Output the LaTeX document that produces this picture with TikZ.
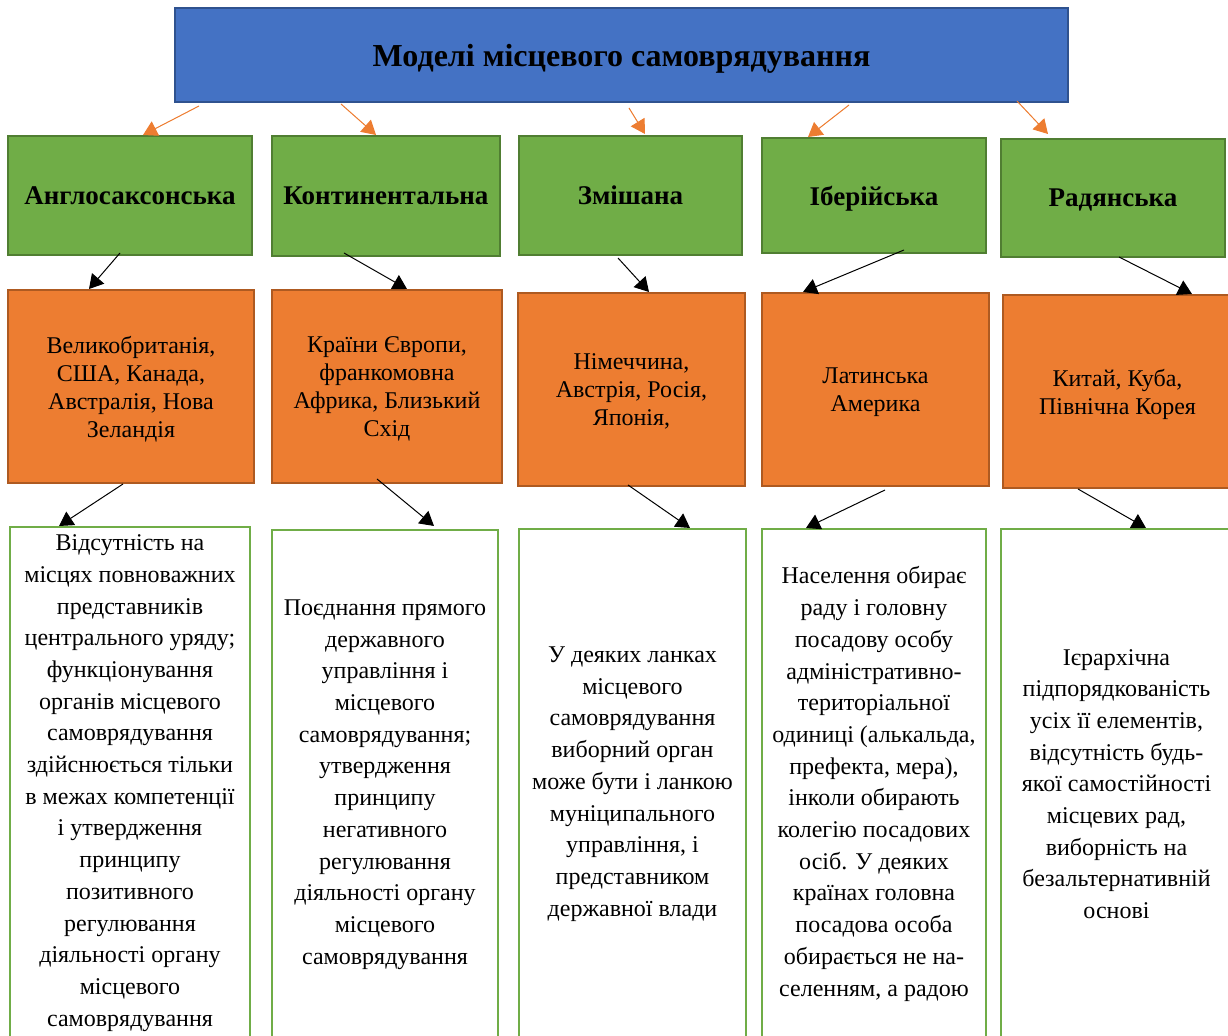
\documentclass[tikz,border=0pt]{standalone}
\usepackage{fontspec}
\setmainfont{Liberation Serif}
\usetikzlibrary{positioning}
\usetikzlibrary{arrows.meta}

\definecolor{headblue}{HTML}{4472C4}
\definecolor{headblueline}{HTML}{2F528F}
\definecolor{modelgreen}{HTML}{70AD47}
\definecolor{modelgreenline}{HTML}{507E32}
\definecolor{countryorange}{HTML}{ED7D31}
\definecolor{countryorangeline}{HTML}{AE5A21}

\tikzset{
    headbox/.style={draw=headblueline, fill=headblue, line width=1pt, inner sep=0pt, text depth=0pt,
        font=\fontsize{16}{19}\selectfont\bfseries},
    modelbox/.style={draw=modelgreenline, fill=modelgreen, line width=1pt, inner sep=0pt, text depth=0pt,
        font=\fontsize{13.5}{16}\selectfont\bfseries},
    countrybox/.style={draw=countryorangeline, fill=countryorange, line width=1pt, inner sep=0pt, text depth=0pt,
        align=center, font=\fontsize{12}{14}\selectfont},
    featurebox/.style={draw=modelgreen, fill=white, line width=1pt, inner sep=0pt,
        align=center, font=\fontsize{12}{15.85}\selectfont},
    toparrow/.style={-{Triangle[length=7pt,width=8pt]}, draw=countryorange, fill=countryorange, line width=0.5pt},
    downarrow/.style={-{Triangle[length=7pt,width=8pt]}, line width=0.5pt}
}

\begin{document}
\begin{tikzpicture}[x=0.5pt, y=-0.5pt]
            \useasboundingbox (0,0) rectangle (1228,1036);

            % head
            \node(model) [headbox, minimum width=446.5pt, minimum height=47pt] at (621.5,55) {Моделі місцевого самоврядування};

            % models
            \node(anglo) [modelbox, minimum width=122pt, minimum height=59.5pt] at (130,195.5) {Англосаксонська};
            \node(conti) [modelbox, minimum width=114pt, minimum height=60pt] at (386,196) {Континентальна};
            \node(mixed) [modelbox, minimum width=111.5pt, minimum height=59.5pt] at (630.5,195.5) {Змішана};
            \node(iber) [modelbox, minimum width=112pt, minimum height=57.5pt] at (874,195.5) {Іберійська};
            \node(sov) [modelbox, minimum width=112pt, minimum height=59pt] at (1113,198) {Радянська};

            % countries
            \node(angloc) [countrybox, minimum width=123pt, minimum height=96.5pt] at (131,386.5)
                {Великобританія,\\США, Канада,\\Австралія, Нова\\Зеландія};
            \node(contic) [countrybox, minimum width=115pt, minimum height=96.5pt] at (387,386.5)
                {Країни Європи,\\франкомовна\\Африка, Близький\\Схід};
            \node(mixedc) [countrybox, minimum width=113.5pt, minimum height=96.5pt] at (631.5,389.5)
                {Німеччина,\\Австрія, Росія,\\Японія,};
            \node(iberc) [countrybox, minimum width=113.5pt, minimum height=96.5pt] at (875.5,389.5)
                {Латинська\\Америка};
            \node(sovc) [countrybox, minimum width=114.5pt, minimum height=96.5pt] at (1117.5,391.5)
                {Китай, Куба,\\Північна Корея};

            % features
            \node(anglof) [featurebox, minimum width=120pt, minimum height=256pt] at (130,783)
                {Відсутність на\\місцях повноважних\\представників\\центрального уряду;\\функціонування\\органів місцевого\\самоврядування\\здійснюється тільки\\в межах компетенції\\і утвердження\\принципу\\позитивного\\регулювання\\діяльності органу\\місцевого\\самоврядування};
            \node(contif) [featurebox, minimum width=113pt, minimum height=254.5pt] at (385,784.5)
                {Поєднання прямого\\державного\\управління і\\місцевого\\самоврядування;\\утвердження\\принципу\\негативного\\регулювання\\діяльності органу\\місцевого\\самоврядування};
            \node(mixedf) [featurebox, minimum width=113.5pt, minimum height=255pt] at (632.5,784)
                {У деяких ланках\\місцевого\\самоврядування\\виборний орган\\може бути і ланкою\\муніципального\\управління, і\\представником\\державної влади};
            \node(iberf) [featurebox, minimum width=112pt, minimum height=255pt] at (874,784)
                {Населення обирає\\раду і головну\\посадову особу\\адміністративно-\\територіальної\\одиниці (алькальда,\\префекта, мера),\\інколи обирають\\колегію посадових\\осіб. У деяких\\країнах головна\\посадова особа\\обирається не на-\\селенням, а радою};
            \node(sovf) [featurebox, minimum width=115.5pt, minimum height=255pt] at (1116.5,784)
                {Ієрархічна\\підпорядкованість\\усіх її елементів,\\відсутність будь-\\якої самостійності\\місцевих рад,\\виборність на\\безальтернативній\\основі};

            % head to models
            \draw[toparrow] ([xshift=-211.25pt, yshift=-1.5pt] model.south) -- ([xshift=6.5pt] anglo.north);
            \draw[toparrow] ([xshift=-140.25pt, yshift=-0.5pt] model.south) -- ([xshift=-5pt] conti.north);
            \draw[toparrow] ([xshift=3.75pt, yshift=-2.5pt] model.south) -- ([xshift=7.25pt, yshift=0.5pt] mixed.north);
            \draw[toparrow] ([xshift=113.75pt, yshift=-1pt] model.south) -- ([xshift=-33pt] iber.north);
            \draw[toparrow] ([xshift=197.75pt, yshift=1pt] model.south) -- ([xshift=-32.5pt, yshift=2pt] sov.north);

            % models to countries
            \draw[downarrow] ([xshift=-5pt, yshift=1.5pt] anglo.south) -- ([xshift=-21pt] angloc.north);
            \draw[downarrow] ([xshift=-21pt, yshift=2pt] conti.south) -- ([xshift=10pt] contic.north);
            \draw[downarrow] ([xshift=-6.25pt, yshift=-1pt] mixed.south) -- ([xshift=8.75pt] mixedc.north);
            \draw[downarrow] ([xshift=15pt, yshift=2pt] iber.south) -- ([xshift=-36.25pt] iberc.north);
            \draw[downarrow] ([xshift=3pt, yshift=0.5pt] sov.south) -- ([xshift=37.25pt] sovc.north);

            % countries to features
            \draw[downarrow] ([xshift=-4pt] angloc.south) -- ([xshift=-35.5pt] anglof.north);
            \draw[downarrow] ([xshift=-5pt, yshift=2.5pt] contic.south) -- ([xshift=24.5pt, yshift=1.5pt] contif.north);
            \draw[downarrow] ([xshift=-1.75pt, yshift=1pt] mixedc.south) -- ([xshift=28.75pt] mixedf.north);
            \draw[downarrow] ([xshift=4.75pt, yshift=-1.5pt] iberc.south) -- ([xshift=-34pt] iberf.north);
            \draw[downarrow] ([xshift=-19.75pt] sovc.south) -- ([xshift=14.75pt] sovf.north);
        \end{tikzpicture}
\end{document}
